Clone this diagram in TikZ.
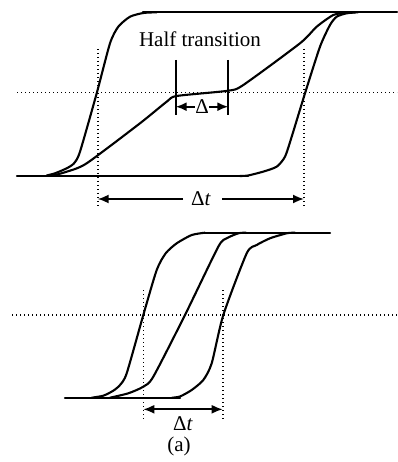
\documentclass[tikz,border=0pt]{standalone}
\usepackage{fontspec}
\setmainfont{Liberation Serif}
\usetikzlibrary{arrows.meta}
\begin{document}
\begin{tikzpicture}[x=1pt,y=-1pt,
  curve/.style={line width=2.1pt, line join=round, line cap=round},
  dotline/.style={line width=1.6pt, dash pattern=on 1.2pt off 2.8pt},
  dimarrow/.style={line width=1.8pt, {Latex[length=11pt,width=9pt]}-{Latex[length=11pt,width=9pt]}},
  onearrow/.style={line width=1.8pt, -{Latex[length=11pt,width=9pt]}},
  tick/.style={line width=1.8pt},
  lbl/.style={font=\fontsize{21}{23}\selectfont, inner sep=1pt}]
\useasboundingbox (0,0) rectangle (397,462);
% ---------- top panel ----------
\draw[dotline] (17,92.7) -- (397,92.7);
\draw[dotline] (97.7,49) -- (97.7,207);
\draw[dotline] (304,49) -- (304,207);
\draw[curve] (17,176) -- (248,176);
\draw[curve] (143,12.3) -- (397,12.3);
\draw[curve] plot[smooth,tension=0.4] coordinates {(46.7,175.5) (55,173.3) (66.7,168.3) (74,163.3) (80,151.7) (96.7,93.3) (110,43.3) (118.3,26.7) (130,16.7) (143.3,13) (156.7,12.3)};
\draw[curve] plot[smooth,tension=0.4] coordinates {(53.3,175.5) (66.7,171.7) (86.7,163.3) (140,123.3) (166.7,101.7) (176.7,96) (228.3,90.7) (243.3,85) (300,43.3) (316.7,26.7) (333.3,15) (346.7,12.6) (355,12.3)};
\draw[curve] plot[smooth,tension=0.4] coordinates {(240,176) (248,175.5) (263,171.7) (276.7,166.7) (285,156.7) (291.7,136.7) (305,93.3) (320,46.7) (330,25) (336.7,16.7) (346.7,13.3) (358,12.3)};
\coordinate (htl) at (175.7,60);
\coordinate (htr) at (228.3,60);
\draw[tick] (htl) -- (175.7,115);
\draw[tick] (htr) -- (228.3,115);
\node[lbl] (ht) at (200,39) {Half transition};
\coordinate (dl) at (175.7,106.7);
\coordinate (dr) at (228.3,106.7);
\draw[dimarrow] (dl) -- node[lbl, fill=white, inner sep=0.5pt] (delta) {Δ} (dr);
\coordinate (tl) at (97.7,199);
\coordinate (tr) at (304,199);
\node[lbl] (dt1) at (201,199) {Δ\textit{t}};
\coordinate (gl) at (183,199);
\coordinate (gr) at (222,199);
\draw[onearrow] (gl) -- (tl);
\draw[onearrow] (gr) -- (tr);
% ---------- bottom panel ----------
\draw[dotline] (12,315) -- (397,315);
\draw[dotline] (143.3,290) -- (143.3,420);
\draw[dotline] (222.7,290) -- (222.7,420);
\draw[curve] (65,397.7) -- (180,397.7);
\draw[curve] (205,232.7) -- (330,232.7);
\draw[curve] plot[smooth,tension=0.4] coordinates {(91.7,397.7) (103.3,395.7) (113.3,390.7) (120,385) (126.7,373.3) (143.3,315) (156.7,270) (165.7,253.3) (176.7,243.3) (191.7,235) (205,232.7)};
\draw[curve] plot[smooth,tension=0.4] coordinates {(110,397.7) (128.3,393.3) (143.3,386.7) (153.3,376.7) (185,315) (218.3,246.7) (226.7,238.3) (238.3,233.3) (246,232.7)};
\draw[curve] plot[smooth,tension=0.4] coordinates {(172,397.7) (180,396.5) (191.7,390) (203.3,380) (211.7,363.3) (223.3,315) (246.7,253.3) (256.7,245) (270,238.3) (286.7,233.3) (295,232.7)};
\coordinate (bl) at (143.3,409.3);
\coordinate (br) at (222.7,409.3);
\draw[dimarrow] (bl) -- (br);
\node[lbl] (dt2) at (183,424) {Δ\textit{t}};
\node[lbl] (cap) at (179,446) {(a)};
\end{tikzpicture}
\end{document}
